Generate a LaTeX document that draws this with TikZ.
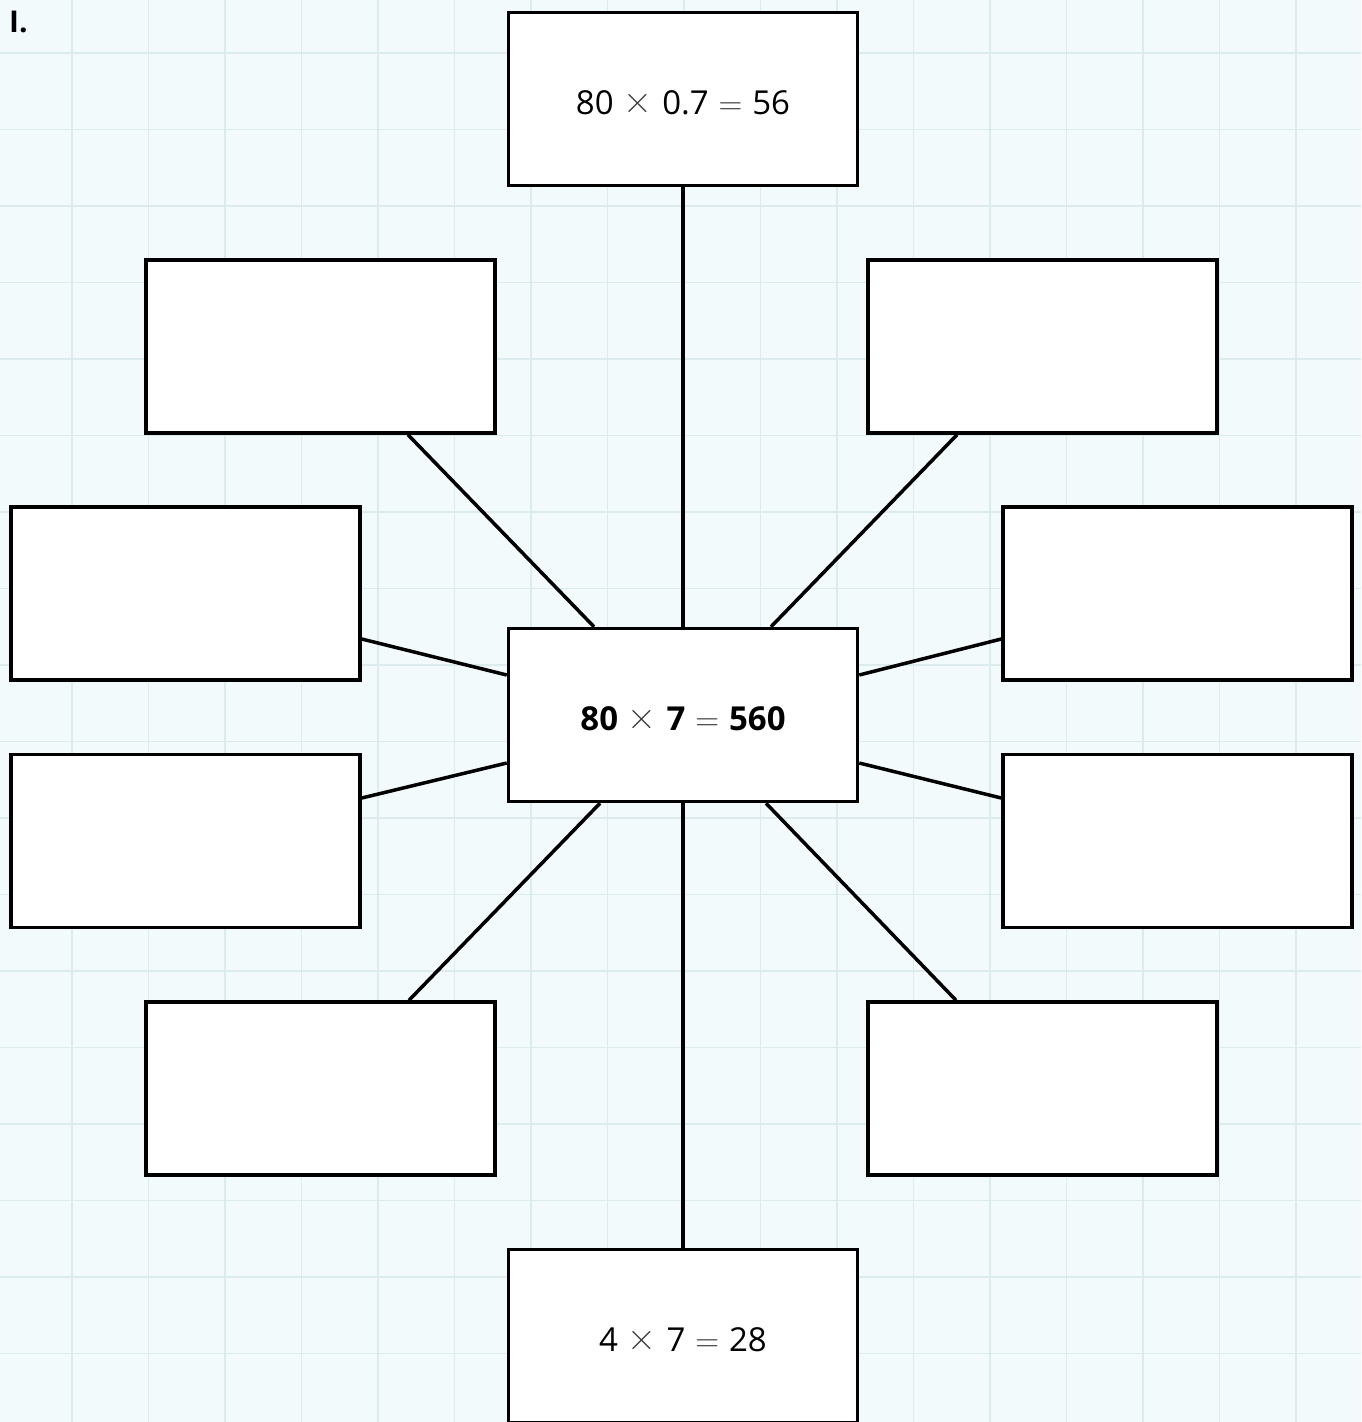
\documentclass[tikz,border=0pt]{standalone}
\usepackage{fontspec}
\setmainfont{Open Sans}
\newfontfamily\lmfont{Latin Modern Roman}
\definecolor{bg}{HTML}{F3FAFB}
\definecolor{gridc}{HTML}{DCECEE}
\definecolor{opc}{HTML}{3A3A3A}
\newcommand{\tms}{\hspace{0.3em}\raisebox{1pt}{\fontsize{40}{40}\selectfont\lmfont\mdseries\color{opc}×}\hspace{0.3em}}
\newcommand{\eqs}{\hspace{0.3em}{\lmfont\mdseries\color{opc}=}\hspace{0.3em}}
\begin{document}
\begin{tikzpicture}[x=1pt,y=-1pt,
  box/.style={draw=black, line width=3.5pt, fill=white, minimum width=349pt, minimum height=173pt, inner sep=0pt, text height=31.6pt, text depth=0pt, font=\fontsize{33}{38}\selectfont},
  link/.style={line width=3.5pt, black}]
\useasboundingbox (0,0) rectangle (1361,1422);
\fill[bg] (0,0) rectangle (1361,1422);
\begin{scope}
\clip (0,0) rectangle (1361,1422);
\foreach \i in {0,...,17} {
  \draw[gridc, line width=1.5pt] ({72+76.5*\i},0) -- ({72+76.5*\i},1422);
}
\foreach \i in {0,...,18} {
  \draw[gridc, line width=1.5pt] (0,{53+76.5*\i}) -- (1361,{53+76.5*\i});
}
\node[box] (top) at (683,99) {80\tms 0.7\eqs 56};
\node[box] (ul) at (320.5,346.5) {};
\node[box] (ur) at (1042.5,346.5) {};
\node[box] (l1) at (185.5,593.5) {};
\node[box] (r1) at (1177.5,593.5) {};
\node[box, font=\fontsize{33}{38}\selectfont\bfseries] (c) at (683,715) {80\tms 7\eqs 560};
\node[box] (l2) at (185.5,841) {};
\node[box] (r2) at (1177.5,841) {};
\node[box] (ll) at (320.5,1088.5) {};
\node[box] (lr) at (1042.5,1088.5) {};
\node[box] (bot) at (683,1336) {4\tms 7\eqs 28};
\node[font=\fontsize{30}{34}\selectfont\bfseries, anchor=west, inner sep=0pt] (lab) at (9,22) {I.};
\draw[link] (top.south) -- (c.north);
\draw[link] (c.south) -- (bot.north);
\draw[link] ([xshift=87.5pt]ul.south) -- ([xshift=-89pt]c.north);
\draw[link] ([xshift=-85.5pt]ur.south) -- ([xshift=88pt]c.north);
\draw[link] ([yshift=-45.5pt]l1.east) -- ([yshift=40pt]c.west);
\draw[link] ([yshift=-45.5pt]r1.west) -- ([yshift=40pt]c.east);
\draw[link] ([yshift=43pt]l2.east) -- ([yshift=-48pt]c.west);
\draw[link] ([yshift=43pt]r2.west) -- ([yshift=-48pt]c.east);
\draw[link] ([xshift=88.5pt]ll.north) -- ([xshift=-83pt]c.south);
\draw[link] ([xshift=-86.5pt]lr.north) -- ([xshift=83pt]c.south);
\end{scope}
\end{tikzpicture}
\end{document}
